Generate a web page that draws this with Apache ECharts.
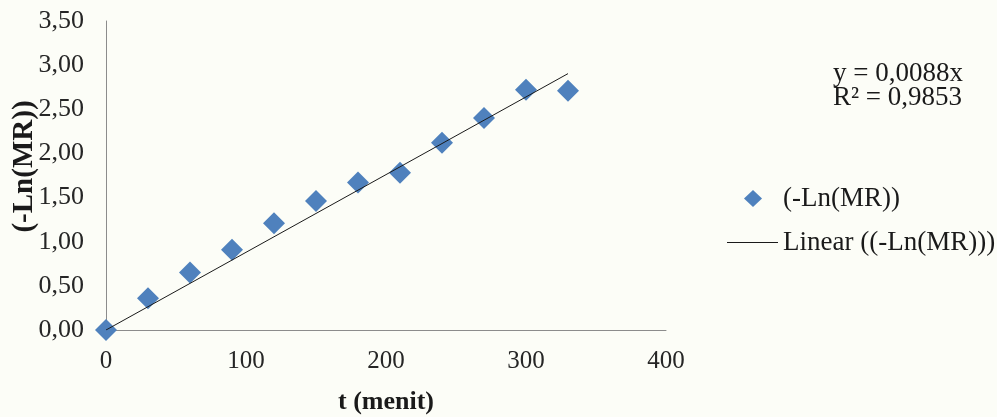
<!DOCTYPE html>
<html>
<head>
<meta charset="utf-8">
<script src="https://cdn.jsdelivr.net/npm/echarts@6/dist/echarts.min.js"></script>
<style>
html,body{margin:0;padding:0;background:#fcfdf7;}
#c{width:997px;height:417px;}
</style>
</head>
<body>
<div id="c"></div>
<script>
var timeMin = [0, 30, 60, 90, 120, 150, 180, 210, 240, 270, 300, 330];
var lnMR = [0.00, 0.36, 0.65, 0.91, 1.21, 1.46, 1.67, 1.78, 2.12, 2.40, 2.72, 2.71];
var trendX = [0, 330];
var trendY = [0, 2.904];
var eqLines = ['y = 0,0088x', 'R\u00b2 = 0,9853'];
var seriesName = '(-Ln(MR))';
var trendName = 'Linear ((-Ln(MR)))';

var F = '"Liberation Serif","Times New Roman",serif';
var chart = echarts.init(document.getElementById('c'));
chart.setOption({
  backgroundColor: '#fcfdf7',
  animation: false,
  grid: {left: 106, right: 331, top: 21, bottom: 87, containLabel: false, outerBoundsMode: 'none'},
  xAxis: {
    type: 'value', min: 0, max: 400, interval: 100,
    name: 't (menit)', nameLocation: 'middle', nameGap: 59, nameMoveOverlap: false,
    nameTextStyle: {fontFamily: F, fontSize: 26, fontWeight: 'bold', color: '#1a1a1a'},
    axisLine: {show: true, lineStyle: {color: '#8c8c8c', width: 1}},
    axisTick: {show: false},
    splitLine: {show: false},
    axisLabel: {fontFamily: F, fontSize: 25, color: '#262626', margin: 19}
  },
  yAxis: {
    type: 'value', min: 0, max: 3.5, interval: 0.5,
    name: '(-Ln(MR))', nameLocation: 'middle', nameGap: 67, nameMoveOverlap: false,
    nameTextStyle: {fontFamily: F, fontSize: 29, fontWeight: 'bold', color: '#1a1a1a', padding: [0, 0, 0, 18]},
    axisLine: {show: true, lineStyle: {color: '#8c8c8c', width: 1}},
    axisTick: {show: false},
    splitLine: {show: false},
    axisLabel: {fontFamily: F, fontSize: 26, color: '#262626', margin: 22,
      formatter: function (v) { return v.toFixed(2).replace('.', ','); }}
  },
  legend: [
    {data: [{name: seriesName, icon: 'diamond'}], left: 744, top: 185, padding: 0, itemWidth: 18, itemHeight: 17,
     textStyle: {fontFamily: F, fontSize: 27, color: '#1a1a1a', padding: [0, 0, 0, 16]}},
    {data: [{name: trendName, icon: 'rect', itemStyle: {color: '#1a1a1a'}}], left: 727, top: 229, padding: 0,
     itemWidth: 51, itemHeight: 1,
     textStyle: {fontFamily: F, fontSize: 27, color: '#1a1a1a'}}
  ],
  graphic: [
    {type: 'text', left: 833, top: 60, style: {text: eqLines[0], font: '27px ' + F, fill: '#1a1a1a'}},
    {type: 'text', left: 833, top: 84, style: {text: eqLines[1], font: '27px ' + F, fill: '#1a1a1a'}}
  ],
  series: [
    {
      name: seriesName, type: 'scatter', symbol: 'diamond', symbolSize: 22,
      itemStyle: {color: '#4f81bd', opacity: 1},
      data: timeMin.map(function (t, i) { return [t, lnMR[i]]; }),
      z: 2
    },
    {
      name: trendName, type: 'line', symbol: 'none', showSymbol: false,
      lineStyle: {color: '#1a1a1a', width: 1},
      itemStyle: {color: '#1a1a1a'},
      data: trendX.map(function (t, i) { return [t, trendY[i]]; }),
      z: 3
    }
  ]
});
</script>
</body>
</html>
